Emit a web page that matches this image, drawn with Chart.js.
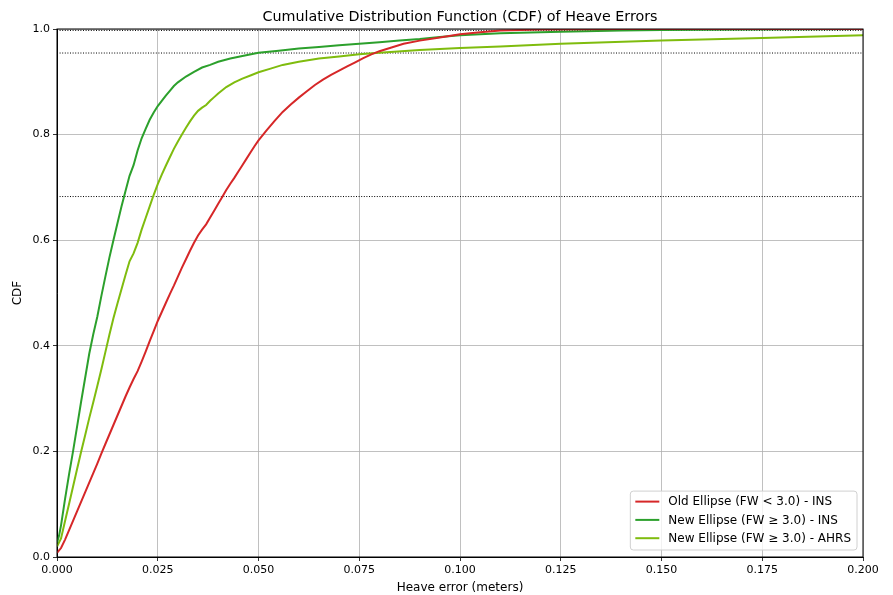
<!DOCTYPE html>
<html>
<head>
<meta charset="utf-8">
<script src="https://cdn.jsdelivr.net/npm/chart.js@4/dist/chart.umd.min.js"></script>
<style>
  html, body { margin: 0; padding: 0; background: #fff; }
  canvas { display: block; }
</style>
</head>
<body>
<canvas id="chart" width="893" height="595"></canvas>
<script>
const chartTitle = 'Cumulative Distribution Function (CDF) of Heave Errors';
const xTitle = 'Heave error (meters)';
const yTitle = 'CDF';
const xTickLabels = ['0.000', '0.025', '0.050', '0.075', '0.100', '0.125', '0.150', '0.175', '0.200'];
const yTickLabels = ['0.0', '0.2', '0.4', '0.6', '0.8', '1.0'];

const seriesLabels = ['Old Ellipse (FW < 3.0) - INS', 'New Ellipse (FW \u2265 3.0) - INS', 'New Ellipse (FW \u2265 3.0) - AHRS'];
const seriesColors = ['#d62728', '#2ca02c', '#7fbc0e'];

// old ellipse, INS
const oldInsX = [0, 0.001, 0.002, 0.003, 0.004, 0.005, 0.006, 0.007, 0.008, 0.009, 0.010, 0.011, 0.012, 0.013, 0.014, 0.015, 0.016, 0.017, 0.018, 0.019, 0.020, 0.021, 0.022, 0.023, 0.024, 0.025, 0.026, 0.027, 0.028, 0.029, 0.030, 0.031, 0.032, 0.033, 0.034, 0.035, 0.036, 0.037, 0.038, 0.039, 0.040, 0.041, 0.042, 0.043, 0.044, 0.045, 0.046, 0.047, 0.048, 0.049, 0.050, 0.052, 0.054, 0.056, 0.058, 0.060, 0.062, 0.064, 0.066, 0.068, 0.070, 0.072, 0.074, 0.076, 0.078, 0.080, 0.083, 0.086, 0.090, 0.095, 0.100, 0.105, 0.110, 0.120, 0.140, 0.200];
const oldInsY = [0.008, 0.017, 0.033, 0.051, 0.069, 0.087, 0.105, 0.123, 0.141, 0.159, 0.177, 0.196, 0.214, 0.232, 0.250, 0.268, 0.286, 0.304, 0.321, 0.337, 0.352, 0.370, 0.389, 0.409, 0.428, 0.447, 0.464, 0.481, 0.498, 0.514, 0.531, 0.548, 0.564, 0.580, 0.595, 0.609, 0.620, 0.630, 0.643, 0.656, 0.669, 0.682, 0.695, 0.707, 0.718, 0.730, 0.742, 0.754, 0.766, 0.778, 0.789, 0.808, 0.826, 0.843, 0.857, 0.870, 0.882, 0.894, 0.904, 0.913, 0.921, 0.929, 0.937, 0.945, 0.952, 0.958, 0.965, 0.972, 0.978, 0.984, 0.990, 0.994, 0.997, 0.999, 1.0, 1.0];

// new ellipse, INS
const newInsX = [0, 0.0005, 0.001, 0.002, 0.003, 0.004, 0.005, 0.006, 0.007, 0.008, 0.009, 0.010, 0.011, 0.012, 0.013, 0.014, 0.015, 0.016, 0.017, 0.018, 0.019, 0.020, 0.021, 0.022, 0.023, 0.024, 0.025, 0.026, 0.027, 0.028, 0.029, 0.030, 0.032, 0.034, 0.036, 0.038, 0.040, 0.043, 0.046, 0.050, 0.055, 0.060, 0.065, 0.070, 0.075, 0.080, 0.085, 0.090, 0.095, 0.100, 0.110, 0.125, 0.140, 0.150, 0.170, 0.200];
const newInsY = [0.027, 0.040, 0.060, 0.110, 0.157, 0.201, 0.248, 0.295, 0.340, 0.385, 0.422, 0.455, 0.494, 0.531, 0.567, 0.600, 0.632, 0.664, 0.693, 0.722, 0.742, 0.770, 0.793, 0.811, 0.828, 0.842, 0.854, 0.864, 0.874, 0.883, 0.892, 0.899, 0.910, 0.919, 0.927, 0.932, 0.938, 0.944, 0.949, 0.955, 0.959, 0.963, 0.966, 0.969, 0.972, 0.975, 0.978, 0.981, 0.985, 0.988, 0.992, 0.995, 0.997, 0.998, 0.999, 1.0];

// new ellipse, AHRS
const newAhrsX = [0, 0.001, 0.002, 0.003, 0.004, 0.005, 0.006, 0.007, 0.008, 0.009, 0.010, 0.011, 0.012, 0.013, 0.014, 0.015, 0.016, 0.017, 0.018, 0.019, 0.020, 0.021, 0.022, 0.023, 0.024, 0.025, 0.026, 0.027, 0.028, 0.029, 0.030, 0.031, 0.032, 0.033, 0.034, 0.035, 0.036, 0.037, 0.038, 0.039, 0.040, 0.042, 0.044, 0.046, 0.048, 0.050, 0.053, 0.056, 0.060, 0.065, 0.070, 0.075, 0.080, 0.090, 0.100, 0.110, 0.125, 0.150, 0.175, 0.200];
const newAhrsY = [0.020, 0.035, 0.068, 0.101, 0.134, 0.167, 0.200, 0.231, 0.263, 0.293, 0.324, 0.355, 0.388, 0.421, 0.452, 0.480, 0.507, 0.534, 0.560, 0.575, 0.595, 0.620, 0.642, 0.664, 0.686, 0.706, 0.724, 0.741, 0.757, 0.773, 0.787, 0.800, 0.813, 0.825, 0.836, 0.845, 0.851, 0.856, 0.864, 0.871, 0.878, 0.890, 0.899, 0.906, 0.912, 0.918, 0.925, 0.932, 0.938, 0.944, 0.948, 0.952, 0.955, 0.960, 0.964, 0.967, 0.972, 0.978, 0.983, 0.988];

// 1, 2 and 3 sigma levels (dotted reference lines)
const sigmaLevels = [0.6827, 0.9545, 0.9973];

const zip = (xs, ys) => xs.map((x, i) => ({ x: x, y: ys[i] }));

const curves = [[oldInsX, oldInsY], [newInsX, newInsY], [newAhrsX, newAhrsY]].map((s, i) => ({
    label: seriesLabels[i],
    data: zip(s[0], s[1]),
    borderColor: seriesColors[i],
    backgroundColor: seriesColors[i],
    borderWidth: 2,
    pointRadius: 0,
    tension: 0,
    fill: false
}));

const refLines = sigmaLevels.map(v => ({
    label: '',
    data: [{ x: 0, y: v }, { x: 0.2, y: v }],
    borderColor: '#000',
    borderWidth: 1,
    borderDash: [1, 1.6],
    pointRadius: 0,
    fill: false
}));

Chart.defaults.font.family = "'DejaVu Sans', sans-serif";
Chart.defaults.color = '#000';

// title over the plot, frame and legend box in the lower right, matplotlib style
const framePlugin = {
    id: 'frame',
    afterDraw(chart) {
        const { ctx, chartArea: a } = chart;
        ctx.save();
        ctx.strokeStyle = '#000';
        ctx.lineWidth = 1;
        ctx.strokeRect(a.left, a.top, a.right - a.left, a.bottom - a.top);

        ctx.fillStyle = '#000';
        ctx.font = "14.3px 'DejaVu Sans'";
        ctx.textAlign = 'center';
        ctx.textBaseline = 'middle';
        ctx.fillText(chartTitle, (a.left + a.right) / 2, a.top - 12);

        ctx.textAlign = 'left';
        ctx.font = "12px 'DejaVu Sans'";
        const widths = seriesLabels.map(t => ctx.measureText(t).width);
        const w = 38 + Math.max(...widths) + 6;
        const rowH = 18.3;
        const h = rowH * seriesLabels.length + 4;
        const x0 = a.right - 6 - w;
        const y0 = a.bottom - 7 - h;
        ctx.beginPath();
        ctx.roundRect(x0, y0, w, h, 3);
        ctx.fillStyle = 'rgba(255,255,255,0.8)';
        ctx.fill();
        ctx.strokeStyle = '#d0d0d0';
        ctx.stroke();
        seriesLabels.forEach((t, i) => {
            const yy = y0 + 10.5 + i * rowH;
            ctx.strokeStyle = seriesColors[i];
            ctx.lineWidth = 2;
            ctx.beginPath();
            ctx.moveTo(x0 + 5, yy);
            ctx.lineTo(x0 + 29, yy);
            ctx.stroke();
            ctx.fillStyle = '#000';
            ctx.fillText(t, x0 + 38, yy + 0.5);
        });
        ctx.restore();
    }
};

new Chart(document.getElementById('chart').getContext('2d'), {
    type: 'line',
    data: { datasets: curves.concat(refLines) },
    options: {
        responsive: false,
        animation: false,
        layout: { padding: { left: 0, right: 30, top: 29, bottom: 0 } },
        plugins: {
            legend: { display: false },
            tooltip: { enabled: false },
            title: { display: false }
        },
        scales: {
            x: {
                type: 'linear',
                min: 0,
                max: 0.2,
                afterFit: s => { s.height = 38; },
                ticks: {
                    stepSize: 0.025,
                    padding: 3,
                    maxRotation: 0,
                    font: { size: 11 },
                    callback: (v, i) => xTickLabels[i]
                },
                grid: { color: '#b0b0b0', lineWidth: 0.8, tickLength: 4, tickColor: '#000' },
                border: { color: '#000', width: 1 },
                title: { display: true, text: xTitle, font: { size: 12 }, padding: { top: 0, bottom: 0 } }
            },
            y: {
                min: 0,
                max: 1,
                afterFit: s => { s.width = 57; },
                ticks: {
                    stepSize: 0.2,
                    padding: 3,
                    font: { size: 11 },
                    callback: (v, i) => yTickLabels[i]
                },
                grid: { color: '#b0b0b0', lineWidth: 0.8, tickLength: 4, tickColor: '#000' },
                border: { color: '#000', width: 1 },
                title: { display: true, text: yTitle, font: { size: 12 }, padding: { top: 10.8, bottom: 0 } }
            }
        }
    },
    plugins: [framePlugin]
});
</script>
</body>
</html>
